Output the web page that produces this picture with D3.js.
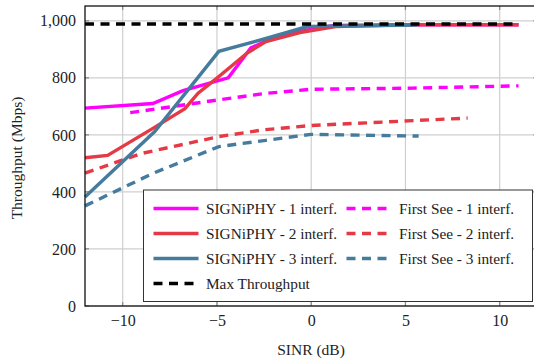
<!DOCTYPE html>
<html><head><meta charset="utf-8">
<script src="https://cdn.jsdelivr.net/npm/d3@7"></script>
<style>
body{margin:0;background:#fff;}
</style></head>
<body><svg id="c" width="534" height="360"></svg>
<script>
// ---- data ----
const xTicks = [-10, -5, 0, 5, 10];
const yTicks = [0, 200, 400, 600, 800, 1000];
const sig1X = [-12, -8.4, -6.8, -4.4, -3.2, -2.2, -0.5, 1.2, 5, 11];
const sig1Y = [694, 710, 755, 800, 905, 935, 965, 984, 986, 986];
const sig2X = [-12, -10.8, -8.4, -6.7, -6.0, -5.0, -3.4, -2.4, -0.6, 1.3, 5, 11];
const sig2Y = [520, 528, 623, 692, 746, 799, 887, 927, 959, 980, 986, 986];
const sig3X = [-12, -8.3, -4.9, -2.4, -0.2, 5.6];
const sig3Y = [382, 612, 893, 938, 980, 985];
const fs1X = [-9.6, -7.5, -4.9, -2.5, 0, 5.4, 11];
const fs1Y = [678, 698, 723, 745, 760, 764, 772];
const fs2X = [-12, -9, -4.9, -2.5, 0, 5.4, 8.3];
const fs2Y = [466, 535, 594, 618, 633, 650, 659];
const fs3X = [-12, -8.4, -4.9, -2.4, 0, 5.7];
const fs3Y = [351, 465, 559, 581, 602, 596];
const maxX = [-12, 11];
const maxY = [989, 989];
const labels = ["SIGNiPHY - 1 interf.", "First See - 1 interf.",
                "SIGNiPHY - 2 interf.", "First See - 2 interf.",
                "SIGNiPHY - 3 interf.", "First See - 3 interf.",
                "Max Throughput"];
const colMag = "#ff00ff", colRed = "#e63946", colBlue = "#457b9d";

const series = [
  {x: sig1X, y: sig1Y, c: colMag, d: false, l: labels[0]},
  {x: fs1X, y: fs1Y, c: colMag, d: true, l: labels[1]},
  {x: sig2X, y: sig2Y, c: colRed, d: false, l: labels[2]},
  {x: fs2X, y: fs2Y, c: colRed, d: true, l: labels[3]},
  {x: sig3X, y: sig3Y, c: colBlue, d: false, l: labels[4]},
  {x: fs3X, y: fs3Y, c: colBlue, d: true, l: labels[5]},
  {x: maxX, y: maxY, c: "#000", d: true, l: labels[6]}
];

const FONT = "Liberation Serif, Times New Roman, DejaVu Serif, serif";
const svg = d3.select("#c").attr("font-family", FONT);
const L = 85, R = 537.4, T = 6, B = 306;
const x = d3.scaleLinear().domain([-12, 12]).range([L, R]);
const y = d3.scaleLinear().domain([0, 1052]).range([B, T]);

// grid
const g = svg.append("g");
g.selectAll(".vg").data(xTicks).enter().append("line")
  .attr("x1", d => x(d)).attr("x2", d => x(d)).attr("y1", T).attr("y2", B)
  .attr("stroke", "#cfcfcf").attr("stroke-width", 1.2);
g.selectAll(".hg").data(yTicks).enter().append("line")
  .attr("x1", L).attr("x2", R).attr("y1", d => y(d)).attr("y2", d => y(d))
  .attr("stroke", "#cfcfcf").attr("stroke-width", 1.2);

// inward tick marks
const tk = 4;
g.selectAll(".xt").data(xTicks).enter().append("path")
  .attr("d", d => `M${x(d)},${B}v${-tk}M${x(d)},${T}v${tk}`)
  .attr("stroke", "#888").attr("stroke-width", 1.2);
g.selectAll(".yt").data(yTicks).enter().append("path")
  .attr("d", d => `M${L},${y(d)}h${tk}M${R},${y(d)}h${-tk}`)
  .attr("stroke", "#888").attr("stroke-width", 1.2);

// axes labels via d3 axes
const xa = svg.append("g").attr("transform", `translate(0,${B})`)
  .call(d3.axisBottom(x).tickValues(xTicks).tickSize(0).tickPadding(8.5)
    .tickFormat(d => d < 0 ? "\u2212" + Math.abs(d) : d));
xa.attr("font-family", FONT).attr("font-size", 16);
xa.select(".domain").remove();
xa.selectAll("text").attr("fill", "#222");
const ya = svg.append("g").attr("transform", `translate(${L},0)`)
  .call(d3.axisLeft(y).tickValues(yTicks).tickSize(0).tickPadding(9)
    .tickFormat(d3.format(",")));
ya.attr("font-family", FONT).attr("font-size", 16);
ya.select(".domain").remove();
ya.selectAll("text").attr("fill", "#222");

// lines
const line = d3.line();
const plot = svg.append("g");
series.forEach(s => {
  plot.append("path")
    .attr("d", line(s.x.map((v, i) => [x(v), y(s.y[i])])))
    .attr("fill", "none").attr("stroke", s.c).attr("stroke-width", 3.4)
    .attr("stroke-linejoin", "miter")
    .attr("stroke-dasharray", s.d ? "9,6.5" : null);
});

// frame
svg.append("rect").attr("x", L).attr("y", T).attr("width", R - L).attr("height", B - T)
  .attr("fill", "none").attr("stroke", "#111").attr("stroke-width", 1.3);

// axis titles
svg.append("text").attr("x", 311).attr("y", 355).attr("text-anchor", "middle")
  .attr("font-size", 15.5).attr("fill", "#222").text("SINR (dB)");
svg.append("text").attr("transform", "translate(22,158) rotate(-90)")
  .attr("text-anchor", "middle").attr("font-size", 15.5).attr("fill", "#222").text("Throughput (Mbps)");

// legend
const lg = svg.append("g");
lg.append("rect").attr("x", 143.5).attr("y", 190).attr("width", 389).attr("height", 111.5)
  .attr("fill", "#fff").attr("stroke", "#333").attr("stroke-width", 1);
series.forEach((s, i) => {
  const col = i === 6 ? 0 : i % 2;
  const row = i === 6 ? 3 : Math.floor(i / 2);
  const lx = col === 0 ? 153.5 : 346.5;
  const ly = 208.5 + row * 25;
  lg.append("line").attr("x1", lx).attr("x2", lx + 45).attr("y1", ly).attr("y2", ly)
    .attr("stroke", s.c).attr("stroke-width", 3.4)
    .attr("stroke-dasharray", s.d ? "9,6.5" : null);
  lg.append("text").attr("x", lx + 52.5).attr("y", ly).attr("dy", "0.35em")
    .attr("font-size", 15.3).attr("fill", "#222").text(s.l);
});
</script></body></html>
